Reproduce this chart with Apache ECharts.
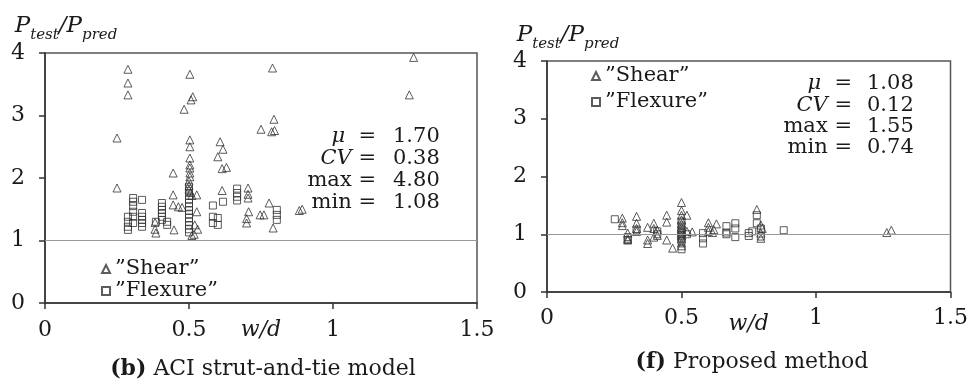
<!DOCTYPE html>
<html>
<head>
  <meta charset="utf-8" />
  <title>Ptest/Ppred vs w/d</title>
  <style>
    html, body { margin: 0; padding: 0; background: #fff; }
    #main { width: 971px; height: 383px; }
  </style>
</head>
<body>
  <div id="main"></div>
  <script src="https://cdn.jsdelivr.net/npm/echarts@6/dist/echarts.min.js"></script>
  <script>
    // 刻度
    var xTicks = [0, 0.5, 1, 1.5];
    var yTicks = [0, 1, 2, 3, 4];
    var seriesNames = ['\u201dShear\u201d', '\u201dFlexure\u201d'];

    // (b) ACI strut-and-tie model : [w/d, Ptest/Ppred]
    var aciShear = [
      [0.25, 2.64], [0.25, 1.84], [0.288, 3.74], [0.288, 3.52], [0.288, 3.33],
      [0.382, 1.29], [0.382, 1.18], [0.385, 1.12], [0.445, 2.08], [0.445, 1.73],
      [0.445, 1.57], [0.463, 1.54], [0.476, 1.53], [0.448, 1.17],
      [0.503, 3.66], [0.513, 3.30], [0.507, 3.25], [0.483, 3.10],
      [0.503, 2.61], [0.503, 2.50], [0.503, 2.32], [0.503, 2.21], [0.503, 2.16],
      [0.503, 2.08], [0.503, 2.02], [0.5, 1.95], [0.5, 1.88], [0.5, 1.82],
      [0.505, 1.77], [0.51, 1.72], [0.527, 1.73], [0.527, 1.46], [0.53, 1.18],
      [0.52, 1.25], [0.518, 1.10], [0.51, 1.08],
      [0.608, 2.58], [0.618, 2.46], [0.6, 2.34], [0.63, 2.17], [0.615, 2.15],
      [0.615, 1.80], [0.705, 1.84], [0.705, 1.74], [0.705, 1.68], [0.707, 1.46],
      [0.7, 1.35], [0.7, 1.28], [0.747, 1.41], [0.76, 1.41], [0.778, 1.60],
      [0.792, 1.20], [0.79, 3.76], [0.795, 2.94], [0.75, 2.78], [0.787, 2.74],
      [0.797, 2.76], [0.883, 1.48], [0.893, 1.50], [1.28, 3.93], [1.265, 3.33]
    ];
    var aciFlexure = [
      [0.288, 1.38], [0.288, 1.30], [0.288, 1.22], [0.288, 1.17],
      [0.306, 1.68], [0.306, 1.62], [0.306, 1.55], [0.306, 1.46], [0.306, 1.38], [0.306, 1.28],
      [0.337, 1.65], [0.337, 1.44], [0.337, 1.38], [0.337, 1.33], [0.337, 1.28], [0.337, 1.22],
      [0.385, 1.30], [0.406, 1.60], [0.406, 1.54], [0.406, 1.49], [0.406, 1.44],
      [0.406, 1.38], [0.406, 1.33], [0.424, 1.30], [0.424, 1.25],
      [0.5, 1.86], [0.5, 1.79], [0.5, 1.72], [0.5, 1.66], [0.5, 1.60], [0.5, 1.54],
      [0.5, 1.48], [0.5, 1.42], [0.5, 1.36], [0.5, 1.30], [0.5, 1.24], [0.5, 1.18], [0.5, 1.13],
      [0.583, 1.56], [0.583, 1.38], [0.583, 1.28], [0.6, 1.36], [0.6, 1.25], [0.618, 1.62],
      [0.667, 1.83], [0.667, 1.76], [0.667, 1.70], [0.667, 1.64],
      [0.805, 1.49], [0.805, 1.41], [0.805, 1.33]
    ];

    // (f) Proposed method
    var propShear = [
      [0.28, 1.28], [0.28, 1.20], [0.28, 1.15], [0.30, 1.02], [0.30, 0.93], [0.30, 0.90],
      [0.333, 1.31], [0.333, 1.19], [0.333, 1.10], [0.333, 1.05],
      [0.374, 1.12], [0.374, 0.90], [0.374, 0.84], [0.397, 1.19], [0.397, 1.10], [0.397, 0.95],
      [0.41, 1.07], [0.41, 0.98], [0.445, 1.33], [0.445, 1.21], [0.445, 0.90], [0.467, 0.76],
      [0.5, 1.55], [0.5, 1.41], [0.5, 1.33], [0.5, 1.25], [0.5, 1.18], [0.5, 1.12],
      [0.5, 1.07], [0.5, 1.02], [0.5, 0.97], [0.5, 0.92], [0.5, 0.85], [0.5, 0.80],
      [0.52, 1.33], [0.52, 1.05], [0.54, 1.04], [0.6, 1.20], [0.6, 1.12], [0.6, 1.05],
      [0.615, 1.03], [0.62, 1.08], [0.63, 1.18], [0.78, 1.43], [0.795, 1.16], [0.795, 1.02],
      [0.795, 0.93], [0.8, 1.10], [1.263, 1.03], [1.28, 1.07]
    ];
    var propFlexure = [
      [0.252, 1.26], [0.30, 0.95], [0.30, 0.90], [0.333, 1.08], [0.41, 1.00], [0.41, 1.05],
      [0.5, 1.22], [0.5, 1.15], [0.5, 1.08], [0.5, 1.03], [0.5, 0.98], [0.5, 0.93],
      [0.5, 0.88], [0.5, 0.74], [0.52, 1.00], [0.58, 1.02], [0.58, 0.93], [0.58, 0.84],
      [0.667, 1.14], [0.667, 1.03], [0.667, 1.00], [0.7, 1.19], [0.7, 1.10], [0.7, 0.95],
      [0.75, 1.02], [0.75, 0.97], [0.763, 1.05], [0.78, 1.33], [0.78, 1.19],
      [0.795, 1.10], [0.795, 0.96], [0.88, 1.07]
    ];

    var statLabels = ['{i|\u03bc}  =', '{i|CV} =', 'max =', 'min ='];
    var aciStats = ['1.70', '0.38', '4.80', '1.08'];
    var propStats = ['1.08', '0.12', '1.55', '0.74'];

    var FONT = 'DejaVu Serif';
    var INK = '#1a1a1a';

    function xAxisOf(idx, gap, margin) {
      return {
        gridIndex: idx, type: 'value', min: 0, max: 1.5, interval: 0.5,
        name: 'w/d', nameLocation: 'middle', nameGap: gap, nameMoveOverlap: false,
        nameTextStyle: { fontFamily: FONT, fontStyle: 'italic', fontSize: 22, color: INK },
        axisLine: { onZero: false, lineStyle: { color: '#333', width: 1.5 } },
        axisTick: { inside: false, length: 6, lineStyle: { color: '#333', width: 1.5 } },
        axisLabel: { margin: margin, fontFamily: FONT, fontSize: 22, color: INK,
          formatter: function (v) { return xTicks.indexOf(v) >= 0 ? String(v) : ''; } },
        splitLine: { show: false }
      };
    }

    function yAxisOf(idx, gap) {
      return {
        gridIndex: idx, type: 'value', min: 0, max: 4, interval: 1,
        name: '{P|P}{s|test}{P|/P}{s|pred}', nameLocation: 'end', nameGap: gap, nameMoveOverlap: false,
        nameTextStyle: {
          align: 'center', padding: [0, 0, 0, 42],
          rich: {
            P: { fontFamily: FONT, fontStyle: 'italic', fontSize: 23, color: INK, verticalAlign: 'top', padding: [0, 0, 5, 0] },
            s: { fontFamily: FONT, fontStyle: 'italic', fontSize: 15, color: INK, verticalAlign: 'bottom' }
          }
        },
        axisLine: { lineStyle: { color: '#333', width: 1.5 } },
        axisTick: { inside: false, length: 6, lineStyle: { color: '#333', width: 1.5 } },
        axisLabel: { margin: 20, fontFamily: FONT, fontSize: 22, color: INK,
          formatter: function (v) { return yTicks.indexOf(v) >= 0 ? String(v) : ''; } },
        splitLine: { show: false }
      };
    }

    function scatterOf(name, idx, symbol, data, withLine) {
      var s = {
        name: name, type: 'scatter', xAxisIndex: idx, yAxisIndex: idx,
        symbol: symbol, symbolSize: symbol === 'triangle' ? 8 : 7,
        itemStyle: { color: 'rgba(255,255,255,0)', borderColor: '#333', borderWidth: 1 },
        data: data, silent: true
      };
      if (withLine) {
        s.markLine = {
          silent: true, symbol: 'none', label: { show: false },
          lineStyle: { color: '#999', width: 1, type: 'solid' },
          data: [{ yAxis: 1 }]
        };
      }
      return s;
    }

    // 统计量文字：标签右对齐，数值左对齐
    function statsText(labelRight, valueLeft, y0, step, vals) {
      var els = [];
      for (var i = 0; i < statLabels.length; i++) {
        var y = y0 + step * i;
        els.push({
          type: 'text', x: labelRight, y: y, silent: true,
          style: {
            text: statLabels[i], align: 'right', verticalAlign: 'middle',
            fontFamily: FONT, fontSize: 21, fill: INK,
            rich: { i: { fontStyle: 'italic', fontFamily: FONT, fontSize: 21 } }
          }
        });
        els.push({
          type: 'text', x: valueLeft, y: y, silent: true,
          style: { text: vals[i], align: 'left', verticalAlign: 'middle', fontFamily: FONT, fontSize: 21, fill: INK }
        });
      }
      return els;
    }

    var legendStyle = { fontFamily: FONT, fontSize: 21, color: INK };
    var captionStyle = { fontFamily: FONT, fontSize: 22, fontWeight: 'normal', color: INK,
      rich: { b: { fontFamily: FONT, fontSize: 22, fontWeight: 'bold', color: INK } } };

    var chart = echarts.init(document.getElementById('main'), null, { renderer: 'canvas' });
    var option = {
      animation: false,
      backgroundColor: '#fff',
      grid: [
        { left: 45, top: 53, width: 432, height: 250, show: true, borderColor: '#555', borderWidth: 1.5 },
        { left: 547, top: 61, width: 404, height: 231, show: true, borderColor: '#555', borderWidth: 1.5 }
      ],
      xAxis: [xAxisOf(0, 16, 16), xAxisOf(1, 21, 15)],
      yAxis: [yAxisOf(0, 10), yAxisOf(1, 9)],
      legend: [
        { left: 96, top: 253, orient: 'vertical', itemWidth: 8, itemHeight: 8, itemGap: 0,
          data: seriesNames, textStyle: Object.assign({ lineHeight: 22 }, legendStyle), selectedMode: false },
        { left: 586, top: 58, orient: 'vertical', itemWidth: 8, itemHeight: 8, itemGap: 0,
          data: seriesNames, textStyle: Object.assign({ lineHeight: 26 }, legendStyle), selectedMode: false }
      ],
      title: [
        { text: '{b|(b)} ACI strut-and-tie model', left: 258, top: 353, textAlign: 'center', textStyle: captionStyle },
        { text: '{b|(f)} Proposed method', left: 747, top: 346, textAlign: 'center', textStyle: captionStyle }
      ],
      graphic: statsText(376, 393, 137, 22, aciStats).concat(statsText(852, 867, 84, 21.3, propStats)),
      series: [
        scatterOf(seriesNames[0], 0, 'triangle', aciShear, true),
        scatterOf(seriesNames[1], 0, 'rect', aciFlexure, false),
        scatterOf(seriesNames[0], 1, 'triangle', propShear, true),
        scatterOf(seriesNames[1], 1, 'rect', propFlexure, false)
      ]
    };
    chart.setOption(option);
  </script>
</body>
</html>
